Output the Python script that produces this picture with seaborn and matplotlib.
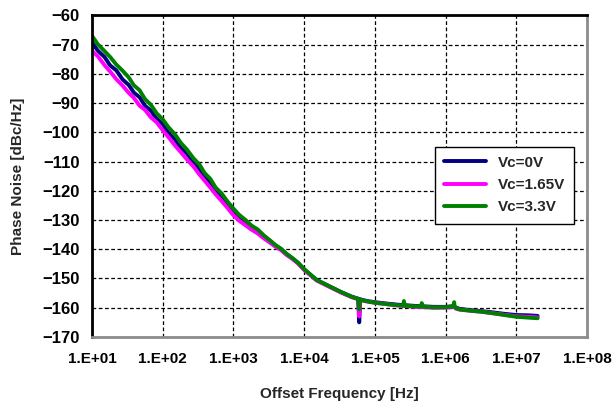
import numpy as np
import pandas as pd
import matplotlib
matplotlib.use("Agg")
import matplotlib.pyplot as plt
import seaborn as sns

# offset frequencies [Hz] shared by all three traces
freq = [10, 12, 15, 18, 22, 27, 33, 39, 47, 56, 68, 82,
        100, 120, 150, 180, 220, 270, 330, 390, 470, 560, 680, 820,
        1000, 1200, 1500, 1800, 2200, 2700, 3300, 3900, 4700, 5600, 6800, 8200,
        10000, 15000, 22000, 33000, 47000, 58000, 60000, 62000, 68000, 82000,
        100000, 150000, 220000, 250000, 257000, 264000, 330000, 450000, 460000, 470000, 680000,
        1000000, 1250000, 1300000, 1320000, 1340000, 1400000, 1600000, 2200000, 3300000,
        4700000, 6800000, 10000000, 15000000, 20000000]

# phase noise [dBc/Hz]
vc_0v = [-69.3, -72.0, -74.2, -77.1, -78.8, -81.9, -83.8, -86.4, -88.0, -90.9, -92.6, -95.4,
         -97.2, -100.2, -102.5, -105.4, -107.2, -110.4, -112.5, -115.2, -117.0, -119.9, -121.7, -124.5,
         -126.8, -128.9, -130.7, -132.3, -133.6, -135.6, -137.2, -138.7, -140.0, -141.6, -143.1, -144.7,
         -146.9, -150.5, -152.5, -154.6, -156.2, -156.9, -165.0, -157.1, -157.4, -157.8,
         -158.1, -158.6, -159.0, -159.1, -159.1, -159.1, -159.3, -159.5, -159.5, -159.5, -159.7,
         -159.7, -159.5, -159.4, -159.4, -159.6, -160.0, -160.4, -160.8, -161.2,
         -161.6, -162.1, -162.5, -162.6, -162.8]

vc_165v = [-72.2, -73.9, -77.0, -79.2, -81.8, -84.0, -86.5, -88.2, -90.9, -92.3, -94.9, -96.6,
           -99.3, -101.6, -104.6, -106.8, -109.3, -111.6, -114.4, -116.5, -118.9, -121.2, -123.5, -125.8,
           -128.4, -130.2, -131.9, -133.3, -134.6, -136.3, -137.8, -139.1, -140.3, -141.9, -143.3, -144.9,
           -147.1, -150.7, -152.7, -154.8, -156.4, -157.1, -163.0, -157.3, -157.6, -158.0,
           -158.3, -158.8, -159.3, -159.4, -159.4, -159.4, -159.6, -159.8, -159.8, -159.8, -160.0,
           -160.0, -159.8, -159.7, -159.7, -159.9, -160.3, -160.7, -161.0, -161.4,
           -161.9, -162.4, -162.9, -163.1, -163.3]

vc_33v = [-67.0, -69.8, -72.2, -74.2, -76.8, -78.9, -81.2, -83.9, -85.6, -88.6, -90.6, -93.5,
          -95.6, -98.2, -100.8, -103.6, -105.9, -108.8, -111.0, -113.9, -115.9, -118.9, -120.9, -123.6,
          -126.1, -128.2, -130.1, -131.9, -133.2, -135.3, -137.0, -138.5, -139.8, -141.5, -143.0, -144.6,
          -146.8, -150.5, -152.5, -154.6, -156.3, -157.0, -160.5, -157.2, -157.5, -157.9,
          -158.3, -158.8, -159.2, -159.3, -157.7, -159.3, -159.5, -159.6, -158.4, -159.6, -159.9,
          -159.8, -159.6, -159.2, -158.1, -159.5, -160.2, -160.6, -161.0, -161.4,
          -161.9, -162.5, -163.1, -163.4, -163.6]

series_names = ["Vc=0V", "Vc=1.65V", "Vc=3.3V"]
series_colors = ["#000080", "#ff00ff", "#008000"]

xtick_vals = [1e1, 1e2, 1e3, 1e4, 1e5, 1e6, 1e7, 1e8]
xtick_labels = ["1.E+01", "1.E+02", "1.E+03", "1.E+04",
                "1.E+05", "1.E+06", "1.E+07", "1.E+08"]
ytick_vals = list(range(-170, -59, 10))

frames = []
for name, vals in zip(series_names, [vc_0v, vc_165v, vc_33v]):
    frames.append(pd.DataFrame({"freq": freq, "noise": vals, "Vc": name}))
df = pd.concat(frames, ignore_index=True)

sns.set_theme(style="white")
plt.rcParams['font.family'] = ['Liberation Sans', 'DejaVu Sans']
plt.rcParams['font.weight'] = 'bold'

fig = plt.figure(figsize=(6.16, 4.05), dpi=100)
ax = fig.add_axes([0.1494, 0.168, 0.8036, 0.794])

sns.lineplot(data=df, x="freq", y="noise", hue="Vc", hue_order=series_names,
             palette=dict(zip(series_names, series_colors)),
             estimator=None, linewidth=2.8, ax=ax)

ax.set_xscale("log")
ax.set_xlim(1e1, 1e8)
ax.set_ylim(-170, -60)
ax.set_xticks(xtick_vals)
ax.set_xticklabels(xtick_labels)
ax.xaxis.set_minor_locator(matplotlib.ticker.NullLocator())
ax.set_yticks(ytick_vals)
ax.set_yticklabels([f"\u2212{abs(v)}" for v in ytick_vals])

ax.grid(True, color="black", linestyle=(0, (3, 2)), linewidth=0.9)
ax.tick_params(axis="both", direction="in", length=4, width=1,
               labelsize=11, colors="black")
ax.tick_params(axis="x", pad=11)
ax.tick_params(axis="y", pad=9, labelsize=12)
for lab in ax.get_xticklabels() + ax.get_yticklabels():
    lab.set_fontweight("bold")

ax.spines["left"].set_color("black")
ax.spines["left"].set_linewidth(2)
ax.spines["top"].set_color("black")
ax.spines["top"].set_linewidth(2)
ax.spines["right"].set_color("#8c8c8c")
ax.spines["right"].set_linewidth(2)
ax.spines["bottom"].set_color("#8c8c8c")
ax.spines["bottom"].set_linewidth(2)

ax.set_xlabel("Offset Frequency [Hz]", fontsize=11, fontweight="bold", labelpad=15)
ax.set_ylabel("Phase Noise [dBc/Hz]", fontsize=11, fontweight="bold", labelpad=12)

leg = ax.legend(loc="upper left", bbox_to_anchor=(0.678, 0.616), frameon=True,
                fancybox=False, edgecolor="black", framealpha=1,
                handlelength=2.7, borderpad=0.6, labelspacing=0.55,
                prop={"size": 11, "weight": "bold"})
leg.get_frame().set_linewidth(1)

fig.savefig("out.png", dpi=100)
plt.close(fig)
